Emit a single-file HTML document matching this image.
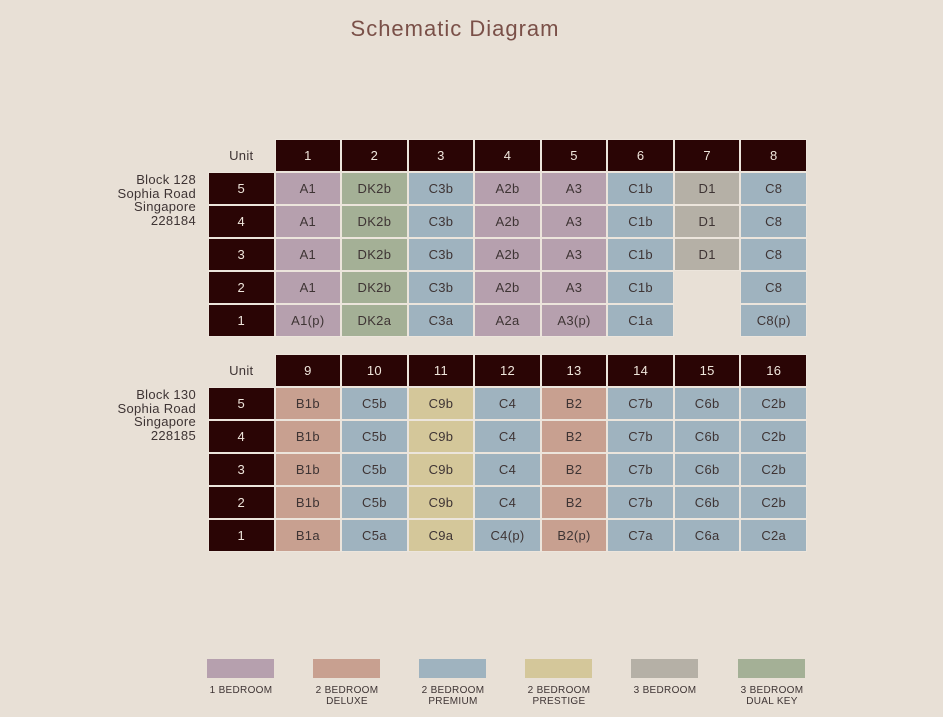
<!DOCTYPE html>
<html><head><meta charset="utf-8"><style>
body{margin:0;width:943px;height:717px;background:#e8e0d6;font-family:"Liberation Sans",sans-serif;position:relative;overflow:hidden}
.t{position:absolute;left:0;width:910px;top:16px;text-align:center;font-size:22px;color:#7a5048;letter-spacing:1px}
.g{position:absolute;left:208px;width:599px;display:grid;grid-template-columns:repeat(9,1fr);grid-auto-rows:33px}
.g div{box-sizing:border-box;border:1px solid #ece5dc;display:flex;align-items:center;justify-content:center;font-size:13px;color:#3e3434;letter-spacing:.3px}
.h{background:#2a0505;color:#efe6dc!important}
.u{border-color:transparent!important}
.e{border-color:transparent!important}
.p{background:#b6a0ae}.k{background:#a4b096}.b{background:#9fb3bf}.d{background:#c8a090}.s{background:#d4c79a}.r{background:#b5b0a6}
.blk{position:absolute;right:747px;text-align:right;font-size:13px;line-height:13.5px;color:#3e3434;letter-spacing:.3px}
.lg{position:absolute;top:659px;width:67px;height:19px}
.lt{position:absolute;top:685px;width:100px;text-align:center;font-size:10px;line-height:11px;color:#3e3434;letter-spacing:.3px}
</style></head><body>
<div class="t">Schematic Diagram</div>
<div class="blk" style="top:173px">Block 128<br>Sophia Road<br>Singapore<br>228184</div>
<div class="blk" style="top:388px">Block 130<br>Sophia Road<br>Singapore<br>228185</div>
<div class="g" style="top:139px">
<div class="u">Unit</div><div class="h">1</div><div class="h">2</div><div class="h">3</div><div class="h">4</div><div class="h">5</div><div class="h">6</div><div class="h">7</div><div class="h">8</div>
<div class="h">5</div><div class="p">A1</div><div class="k">DK2b</div><div class="b">C3b</div><div class="p">A2b</div><div class="p">A3</div><div class="b">C1b</div><div class="r">D1</div><div class="b">C8</div>
<div class="h">4</div><div class="p">A1</div><div class="k">DK2b</div><div class="b">C3b</div><div class="p">A2b</div><div class="p">A3</div><div class="b">C1b</div><div class="r">D1</div><div class="b">C8</div>
<div class="h">3</div><div class="p">A1</div><div class="k">DK2b</div><div class="b">C3b</div><div class="p">A2b</div><div class="p">A3</div><div class="b">C1b</div><div class="r">D1</div><div class="b">C8</div>
<div class="h">2</div><div class="p">A1</div><div class="k">DK2b</div><div class="b">C3b</div><div class="p">A2b</div><div class="p">A3</div><div class="b">C1b</div><div class="e"></div><div class="b">C8</div>
<div class="h">1</div><div class="p">A1(p)</div><div class="k">DK2a</div><div class="b">C3a</div><div class="p">A2a</div><div class="p">A3(p)</div><div class="b">C1a</div><div class="e"></div><div class="b">C8(p)</div>
</div>
<div class="g" style="top:354px">
<div class="u">Unit</div><div class="h">9</div><div class="h">10</div><div class="h">11</div><div class="h">12</div><div class="h">13</div><div class="h">14</div><div class="h">15</div><div class="h">16</div>
<div class="h">5</div><div class="d">B1b</div><div class="b">C5b</div><div class="s">C9b</div><div class="b">C4</div><div class="d">B2</div><div class="b">C7b</div><div class="b">C6b</div><div class="b">C2b</div>
<div class="h">4</div><div class="d">B1b</div><div class="b">C5b</div><div class="s">C9b</div><div class="b">C4</div><div class="d">B2</div><div class="b">C7b</div><div class="b">C6b</div><div class="b">C2b</div>
<div class="h">3</div><div class="d">B1b</div><div class="b">C5b</div><div class="s">C9b</div><div class="b">C4</div><div class="d">B2</div><div class="b">C7b</div><div class="b">C6b</div><div class="b">C2b</div>
<div class="h">2</div><div class="d">B1b</div><div class="b">C5b</div><div class="s">C9b</div><div class="b">C4</div><div class="d">B2</div><div class="b">C7b</div><div class="b">C6b</div><div class="b">C2b</div>
<div class="h">1</div><div class="d">B1a</div><div class="b">C5a</div><div class="s">C9a</div><div class="b">C4(p)</div><div class="d">B2(p)</div><div class="b">C7a</div><div class="b">C6a</div><div class="b">C2a</div>
</div>
<div class="lg p" style="left:207px"></div>
<div class="lg d" style="left:313px"></div>
<div class="lg b" style="left:419px"></div>
<div class="lg s" style="left:525px"></div>
<div class="lg r" style="left:631px"></div>
<div class="lg k" style="left:738px"></div>
<div class="lt" style="left:191px">1 BEDROOM</div>
<div class="lt" style="left:297px">2 BEDROOM<br>DELUXE</div>
<div class="lt" style="left:403px">2 BEDROOM<br>PREMIUM</div>
<div class="lt" style="left:509px">2 BEDROOM<br>PRESTIGE</div>
<div class="lt" style="left:615px">3 BEDROOM</div>
<div class="lt" style="left:722px">3 BEDROOM<br>DUAL KEY</div>
</body></html>
